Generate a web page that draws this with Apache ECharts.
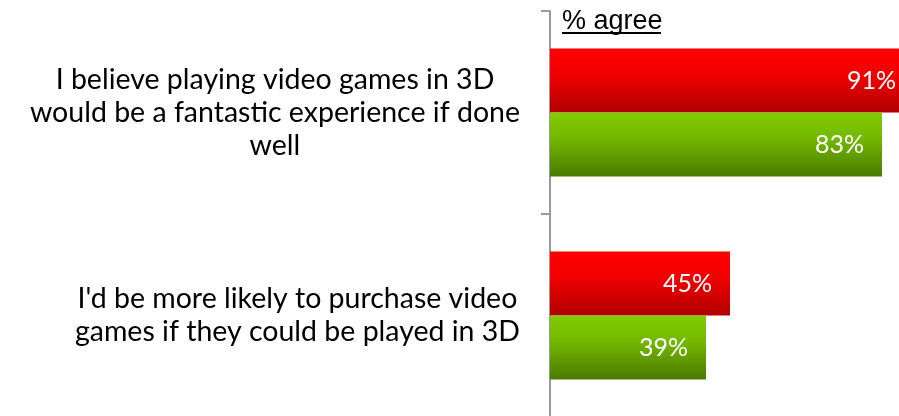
<!DOCTYPE html>
<html>
<head>
<meta charset="utf-8">
<script src="https://cdn.jsdelivr.net/npm/echarts@6/dist/echarts.min.js"></script>
<style>
  html, body { margin: 0; padding: 0; background: #fff; }
  #chart { width: 899px; height: 416px; }
</style>
</head>
<body>
<div id="chart"></div>
<script>
// Survey statements (line breaks as wrapped on the axis)
const categories = [
  'I believe playing video games in 3D\nwould be a fantastic experience if done\nwell',
  "I'd be more likely to purchase video\ngames if they could be played in 3D"
];
// % agree per group
const seriesNames = ['Group A', 'Group B'];
const redValues = [91, 45];
const greenValues = [83, 39];
const axisTitle = '% agree';

const chart = echarts.init(document.getElementById('chart'), null, { renderer: 'canvas' });

const labelFont = 'Lato, "Open Sans", sans-serif';

function vGrad(top, mid, bottom) {
  return new echarts.graphic.LinearGradient(0, 0, 0, 1, [
    { offset: 0, color: top },
    { offset: 0.4, color: mid },
    { offset: 1, color: bottom }
  ]);
}

const valueLabel = {
  show: true,
  position: 'insideRight',
  distance: 18,
  color: '#fff',
  fontFamily: labelFont,
  fontSize: 25,
  formatter: p => p.value + '%'
};

chart.setOption({
  animation: false,
  backgroundColor: '#fff',
  grid: {
    left: 550, top: 11, width: 364, height: 406,
    containLabel: false,
    outerBoundsMode: 'none'
  },
  xAxis: {
    type: 'value', min: 0, max: 91, show: false
  },
  yAxis: {
    type: 'category',
    inverse: true,
    data: categories,
    axisLine: { show: true, lineStyle: { color: '#9a9a9a', width: 2 } },
    axisTick: { show: true, length: 9, lineStyle: { color: '#9a9a9a', width: 2 } },
    axisLabel: {
      margin: 30,
      align: 'right',
      formatter: v => v.split('\n').map(l => '{c|' + l + '}').join('\n'),
      rich: {
        c: {
          align: 'center',
          fontFamily: labelFont,
          fontSize: 28.5,
          lineHeight: 33,
          color: '#000'
        }
      }
    }
  },
  graphic: [
    {
      type: 'text',
      left: 562, top: 8,
      style: {
        text: axisTitle,
        fontFamily: '"Liberation Sans", Arial, sans-serif',
        fontSize: 27,
        fill: '#000'
      }
    },
    {
      type: 'rect',
      shape: { x: 562, y: 32, width: 99, height: 2 },
      style: { fill: '#000' }
    }
  ],
  series: [
    {
      name: seriesNames[0],
      type: 'bar',
      data: redValues,
      barGap: '0%',
      barCategoryGap: '37%',
      clip: false,
      itemStyle: { color: vGrad('#ff0000', '#f20000', '#b00000') },
      label: valueLabel
    },
    {
      name: seriesNames[1],
      type: 'bar',
      data: greenValues,
      clip: false,
      itemStyle: { color: vGrad('#80cc00', '#74b800', '#4a7a00') },
      label: valueLabel
    }
  ]
});
</script>
</body>
</html>
